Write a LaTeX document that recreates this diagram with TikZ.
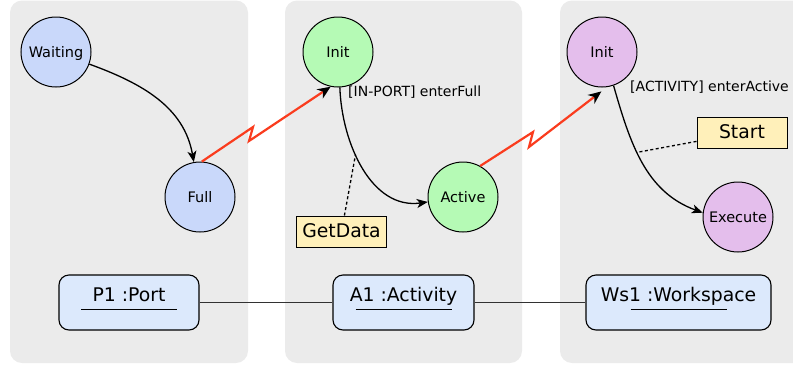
\documentclass[tikz,border=0pt]{standalone}
\usepackage{fontspec}
\setmainfont{DejaVu Sans}
\usetikzlibrary{arrows.meta,positioning}

\definecolor{lanegray}{RGB}{235,235,235}
\definecolor{portblue}{RGB}{201,216,250}
\definecolor{actgreen}{RGB}{181,250,181}
\definecolor{wspurple}{RGB}{228,190,236}
\definecolor{objblue}{RGB}{220,233,252}
\definecolor{noteyellow}{RGB}{255,240,186}
\definecolor{boltred}{RGB}{250,60,30}
\definecolor{linkgray}{RGB}{50,50,50}

\tikzset{
  lane/.style={fill=lanegray, rounded corners=12pt},
  state/.style={circle, draw, line width=1pt, minimum size=70pt, inner sep=0pt,
    text height=10.5pt, text depth=0pt, font=\fontsize{14.5}{16}\selectfont},
  object/.style={draw, line width=1.1pt, rounded corners=10pt, fill=objblue,
    minimum height=55pt, inner xsep=8pt, text height=14pt, text depth=17pt,
    font=\fontsize{18.8}{20}\selectfont,
    path picture={\draw[line width=1.3pt] ([yshift=-7pt]path picture bounding box.center)
      +(-48pt,0) -- +(48pt,0);}},
  action/.style={draw, line width=1pt, fill=noteyellow, minimum height=31pt,
    minimum width=90pt, inner xsep=6pt, text height=14pt, text depth=3pt,
    font=\fontsize{18.8}{20}\selectfont},
  guard/.style={anchor=west, inner sep=0pt, font=\fontsize{14}{16}\selectfont},
  trans/.style={line width=1.3pt, -{Stealth[length=11pt,width=9pt,inset=3pt]}},
  bolt/.style={draw=boltred, line width=2.2pt, -{Stealth[length=13pt,width=11pt,inset=4pt,color=black]}},
  note/.style={line width=1.3pt, dash pattern=on 3pt off 2.5pt},
  link/.style={draw=linkgray, line width=1.3pt}
}

\begin{document}
\begin{tikzpicture}[x=1pt,y=-1pt]
  \useasboundingbox (0,0) rectangle (793,365);

  % the three lanes
  \fill[lane] (10,0.5) rectangle (248,363);
  \fill[lane] (285,0.5) rectangle (522,363);
  \fill[lane] (560,0.5) rectangle (812,363);

  % port
  \node[state, fill=portblue] (waiting) at (56,52) {Waiting};
  \node[state, fill=portblue] (full) at (200,197) {Full};
  \draw[trans] (waiting) to[out=-20,in=100] (full);

  % activity
  \node[state, fill=actgreen] (actinit) at (338,52) {Init};
  \node[state, fill=actgreen] (active) at (463,197) {Active};
  \draw[trans] (actinit.-87) to[out=-88,in=188] coordinate[pos=0.4] (getpt) (active.188);
  \node[guard] (fullguard) at (348,92) {[IN-PORT] enterFull};
  \node[action] (getdata) at (341.5,231.5) {GetData};
  \draw[note] (getdata) -- (getpt);

  % workspace
  \node[state, fill=wspurple] (wsinit) at (602,52) {Init};
  \node[state, fill=wspurple] (execute) at (738,217) {Execute};
  \draw[trans] (wsinit.-71) to[out=-74,in=160] coordinate[pos=0.42] (startpt) (execute.173);
  \node[guard] (activeguard) at (630,87) {[ACTIVITY] enterActive};
  \node[action] (start) at (742,133) {Start};
  \draw[note] (start) -- (startpt);

  % events passed on between the lanes
  \coordinate (zigA) at (253,127);
  \coordinate (zagA) at (249,141);
  \coordinate (zigB) at (533,132);
  \coordinate (zagB) at (529,147);
  \draw[bolt] (full.87) -- (zigA) -- (zagA) -- (actinit.-102);
  \draw[bolt, shorten >=7pt] (active.61) -- (zigB) -- (zagB) -- (wsinit.-82);

  % objects
  \node[object, minimum width=140pt] (port) at (129,302.5) {P1 :Port};
  \node[object, minimum width=141pt] (activity) at (403.5,302.5) {A1 :Activity};
  \node[object, minimum width=185pt] (workspace) at (678.5,302.5) {Ws1 :Workspace};
  \draw[link] (port) -- (activity);
  \draw[link] (activity) -- (workspace);
\end{tikzpicture}
\end{document}
